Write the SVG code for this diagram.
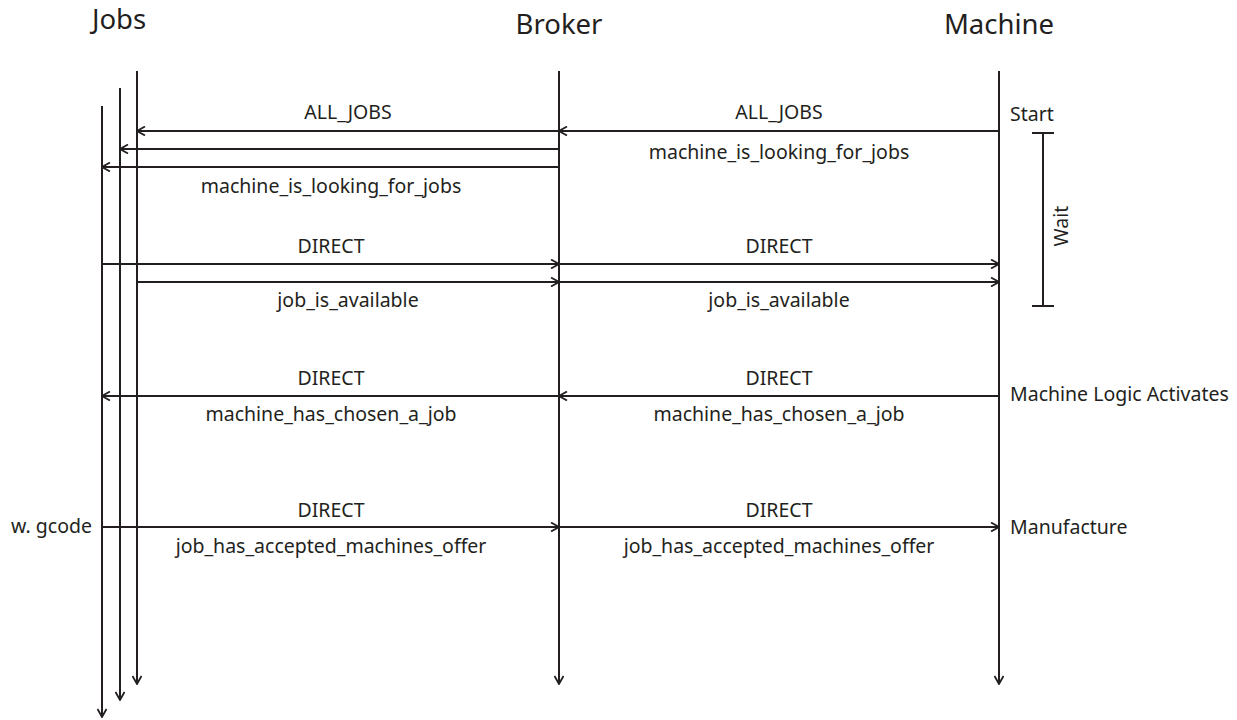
<svg xmlns="http://www.w3.org/2000/svg" width="1237" height="720" viewBox="0 0 1237 720">
<defs>
<marker id="ah" viewBox="0 0 10 10" refX="9" refY="5" markerWidth="10" markerHeight="10" markerUnits="userSpaceOnUse" orient="auto">
<path d="M1,0.5 L9,5 L1,9.5" fill="none" stroke="#231f20" stroke-width="1.8"/>
</marker>
</defs>
<style>
.ln{stroke:#231f20;stroke-width:2;fill:none}
.ar{stroke:#231f20;stroke-width:2;fill:none;marker-end:url(#ah)}
.t{font-family:"Noto Sans","Open Sans",sans-serif;font-size:19.5px;fill:#231f20}
.c{text-anchor:middle}
.h{font-family:"Noto Sans","Open Sans",sans-serif;font-size:27.5px;fill:#231f20;text-anchor:middle}
</style>
<rect width="1237" height="720" fill="#fff"/>
<g id="jobs">
<text class="h" x="119" y="29">Jobs</text>
<line class="ar" x1="102" y1="106" x2="102" y2="717"/>
<line class="ar" x1="120" y1="88" x2="120" y2="700"/>
<line class="ar" x1="137" y1="71" x2="137" y2="684"/>
<text class="t" x="92" y="533" text-anchor="end">w. gcode</text>
</g>
<g id="broker">
<text class="h" x="559" y="34">Broker</text>
<line class="ar" x1="559" y1="71" x2="559" y2="684"/>
</g>
<g id="machine">
<text class="h" x="999" y="34">Machine</text>
<line class="ar" x1="999" y1="71" x2="999" y2="684"/>
<text class="t" x="1010" y="121">Start</text>
<text class="t" x="1010" y="401">Machine Logic Activates</text>
<text class="t" x="1010" y="534">Manufacture</text>
</g>
<g id="wait">
<line class="ln" x1="1043" y1="133" x2="1043" y2="306"/>
<line class="ln" x1="1032" y1="133" x2="1054" y2="133"/>
<line class="ln" x1="1032" y1="306" x2="1054" y2="306"/>
<text class="t c" transform="translate(1068,226) rotate(-90)">Wait</text>
</g>
<g id="connectors">
<line class="ar" x1="999" y1="131" x2="559" y2="131"/>
<line class="ar" x1="559" y1="131" x2="137" y2="131"/>
<line class="ar" x1="559" y1="149" x2="120" y2="149"/>
<line class="ar" x1="559" y1="167" x2="102" y2="167"/>
<line class="ar" x1="102" y1="264" x2="559" y2="264"/>
<line class="ar" x1="559" y1="264" x2="999" y2="264"/>
<line class="ar" x1="137" y1="282" x2="559" y2="282"/>
<line class="ar" x1="559" y1="282" x2="999" y2="282"/>
<line class="ar" x1="999" y1="396" x2="559" y2="396"/>
<line class="ar" x1="559" y1="396" x2="102" y2="396"/>
<line class="ar" x1="102" y1="527" x2="559" y2="527"/>
<line class="ar" x1="559" y1="527" x2="999" y2="527"/>
</g>
<g id="labels">
<text class="t c" x="348" y="119">ALL_JOBS</text>
<text class="t c" x="779" y="119">ALL_JOBS</text>
<text class="t c" x="779" y="159">machine_is_looking_for_jobs</text>
<text class="t c" x="331" y="193">machine_is_looking_for_jobs</text>
<text class="t c" x="331" y="253">DIRECT</text>
<text class="t c" x="779" y="253">DIRECT</text>
<text class="t c" x="348" y="307">job_is_available</text>
<text class="t c" x="779" y="307">job_is_available</text>
<text class="t c" x="331" y="385">DIRECT</text>
<text class="t c" x="779" y="385">DIRECT</text>
<text class="t c" x="331" y="421">machine_has_chosen_a_job</text>
<text class="t c" x="779" y="421">machine_has_chosen_a_job</text>
<text class="t c" x="331" y="517">DIRECT</text>
<text class="t c" x="779" y="517">DIRECT</text>
<text class="t c" x="331" y="553">job_has_accepted_machines_offer</text>
<text class="t c" x="779" y="553">job_has_accepted_machines_offer</text>
</g>
</svg>
